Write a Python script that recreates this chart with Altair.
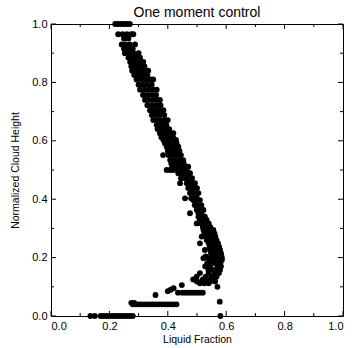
import altair as alt
import pandas as pd

# Height levels and the liquid-fraction values read at each level
level_y = [1.000, 0.965, 0.950, 0.930, 0.915, 0.900, 0.885, 0.870, 0.855, 0.840,
           0.825, 0.810, 0.792, 0.775, 0.757, 0.740, 0.722, 0.705, 0.688, 0.671,
           0.654, 0.640, 0.626, 0.612, 0.603, 0.592, 0.580, 0.565, 0.551, 0.534,
           0.522, 0.511, 0.500, 0.489, 0.472, 0.455, 0.438, 0.421, 0.403, 0.397,
           0.380, 0.363, 0.352, 0.340, 0.329, 0.317, 0.305, 0.295, 0.283, 0.272,
           0.260, 0.249, 0.237, 0.226, 0.215, 0.204, 0.198, 0.192, 0.181, 0.170,
           0.158, 0.147, 0.135, 0.125, 0.118, 0.112, 0.106, 0.100, 0.095, 0.090,
           0.085, 0.080, 0.072, 0.049, 0.045, 0.040, 0.000]
level_x = [
    [0.22, 0.23, 0.24, 0.25, 0.26, 0.27],
    [0.23, 0.245, 0.26, 0.275, 0.282],
    [0.25, 0.265],
    [0.242, 0.255, 0.27, 0.288],
    [0.25, 0.265, 0.28],
    [0.253, 0.268, 0.283, 0.30],
    [0.265, 0.28, 0.295, 0.305],
    [0.271, 0.285, 0.30, 0.316],
    [0.275, 0.29, 0.305, 0.32],
    [0.278, 0.295, 0.31, 0.325, 0.333],
    [0.285, 0.30, 0.315, 0.33],
    [0.293, 0.31, 0.325, 0.34, 0.35],
    [0.30, 0.315, 0.33, 0.345],
    [0.305, 0.32, 0.335, 0.35, 0.362],
    [0.315, 0.33, 0.345, 0.36],
    [0.322, 0.335, 0.35, 0.363, 0.373],
    [0.33, 0.345, 0.36, 0.375],
    [0.339, 0.352, 0.365, 0.377, 0.385],
    [0.345, 0.36, 0.372, 0.388],
    [0.35, 0.363, 0.376, 0.39, 0.40],
    [0.362, 0.37, 0.382, 0.395],
    [0.365, 0.378, 0.39, 0.405],
    [0.373, 0.385, 0.398, 0.41, 0.419],
    [0.378, 0.392, 0.405, 0.418],
    [0.385, 0.40, 0.415, 0.428],
    [0.39, 0.405, 0.42, 0.43],
    [0.396, 0.408, 0.42, 0.436],
    [0.40, 0.413, 0.425, 0.44],
    [0.384, 0.402, 0.41, 0.422, 0.435, 0.445],
    [0.408, 0.42, 0.432, 0.445, 0.453],
    [0.412, 0.425, 0.44, 0.455],
    [0.415, 0.43, 0.445, 0.46, 0.47],
    [0.396, 0.408, 0.419, 0.435, 0.45, 0.465],
    [0.436, 0.45, 0.462, 0.476],
    [0.445, 0.458, 0.47, 0.483],
    [0.442, 0.465, 0.475, 0.485, 0.493],
    [0.47, 0.48, 0.49, 0.50],
    [0.476, 0.486, 0.496, 0.505],
    [0.459, 0.48, 0.49, 0.50],
    [0.487, 0.498, 0.51],
    [0.492, 0.502, 0.515],
    [0.499, 0.51, 0.522],
    [0.476, 0.505, 0.515],
    [0.505, 0.515, 0.527],
    [0.51, 0.52, 0.533],
    [0.499, 0.515, 0.525, 0.54],
    [0.52, 0.53, 0.545],
    [0.522, 0.535, 0.548, 0.556],
    [0.525, 0.538, 0.55, 0.56],
    [0.516, 0.53, 0.542, 0.555, 0.563],
    [0.533, 0.545, 0.557, 0.567],
    [0.51, 0.54, 0.552, 0.565, 0.572],
    [0.543, 0.555, 0.568, 0.576],
    [0.527, 0.545, 0.558, 0.57, 0.579],
    [0.548, 0.56, 0.572, 0.582],
    [0.53, 0.55, 0.565, 0.575, 0.584],
    [0.522, 0.54, 0.585],
    [0.55, 0.562, 0.575, 0.585],
    [0.535, 0.55, 0.565, 0.58],
    [0.528, 0.545, 0.57, 0.582],
    [0.539, 0.555, 0.568, 0.579],
    [0.51, 0.54, 0.56, 0.575],
    [0.499, 0.53, 0.55, 0.567],
    [0.487, 0.52, 0.545, 0.56],
    [0.50, 0.515, 0.53, 0.545, 0.562],
    [0.51, 0.525, 0.54],
    [0.448],
    [0.57],
    [0.42],
    [0.41],
    [0.40],
    [0.435, 0.45, 0.46, 0.47, 0.48, 0.49, 0.50, 0.51, 0.52],
    [0.358],
    [0.578],
    [0.275, 0.285],
    [0.28, 0.29, 0.30, 0.31, 0.32, 0.33, 0.34, 0.35, 0.36, 0.37, 0.38, 0.39,
     0.40, 0.41, 0.42, 0.43],
    [0.135, 0.15, 0.17, 0.18, 0.19, 0.20, 0.21, 0.22, 0.23, 0.24, 0.25, 0.26,
     0.27, 0.28, 0.58],
]

major_ticks = [0.0, 0.2, 0.4, 0.6, 0.8, 1.0]
minor_ticks = [0.1, 0.3, 0.5, 0.7, 0.9]

rows = []
for yv, xs in zip(level_y, level_x):
    for xv in xs:
        rows.append({"x": xv, "y": yv})
df = pd.DataFrame(rows)

FONT = "Liberation Sans"
W = 292
H = 292
sc = alt.Scale(domain=[0, 1], nice=False, zero=False)

x_axis = alt.Axis(values=major_ticks, format=".1f", title="Liquid Fraction",
                  ticks=False, domain=False, grid=False,
                  labelFont=FONT, labelFontSize=11, labelColor="black",
                  labelPadding=4, titleFont=FONT, titleFontSize=10.5,
                  titleFontWeight="normal", titleColor="black", titlePadding=3)
y_axis = alt.Axis(values=major_ticks, format=".1f", title="Normalized Cloud Height",
                  ticks=False, domain=False, grid=False,
                  labelFont=FONT, labelFontSize=11, labelColor="black",
                  labelPadding=4, titleFont=FONT, titleFontSize=10.5,
                  titleFontWeight="normal", titleColor="black", titlePadding=11)

points = alt.Chart(df).mark_circle(size=34, color="black", opacity=1).encode(
    x=alt.X("x:Q", scale=sc, axis=x_axis),
    y=alt.Y("y:Q", scale=sc, axis=y_axis),
)

major_df = pd.DataFrame({"t": major_ticks})
minor_df = pd.DataFrame({"t": minor_ticks})


def xticks(data, y0, y1):
    return alt.Chart(data).mark_rule(color="black", strokeWidth=1).encode(
        x=alt.X("t:Q", scale=sc, axis=x_axis),
        y=alt.value(y0), y2=alt.value(y1))


def yticks(data, x0, x1):
    return alt.Chart(data).mark_rule(color="black", strokeWidth=1).encode(
        y=alt.Y("t:Q", scale=sc, axis=y_axis),
        x=alt.value(x0), x2=alt.value(x1))


ticks = [
    xticks(major_df, H, H - 5), xticks(minor_df, H, H - 3),
    xticks(major_df, 0, 5), xticks(minor_df, 0, 3),
    yticks(major_df, 0, 5), yticks(minor_df, 0, 3),
    yticks(major_df, W, W - 5), yticks(minor_df, W, W - 3),
]

chart = alt.layer(points, *ticks).properties(
    width=W, height=H,
    title=alt.TitleParams("One moment control", font=FONT, fontSize=14,
                          fontWeight="normal", color="black", offset=2, dy=4),
    autosize=alt.AutoSizeParams(type="none"),
    padding={"left": 51, "top": 24, "right": 9, "bottom": 32},
).configure_view(stroke="black", strokeWidth=1)

chart.save("out.html", embed_options={"renderer": "svg", "actions": False})
